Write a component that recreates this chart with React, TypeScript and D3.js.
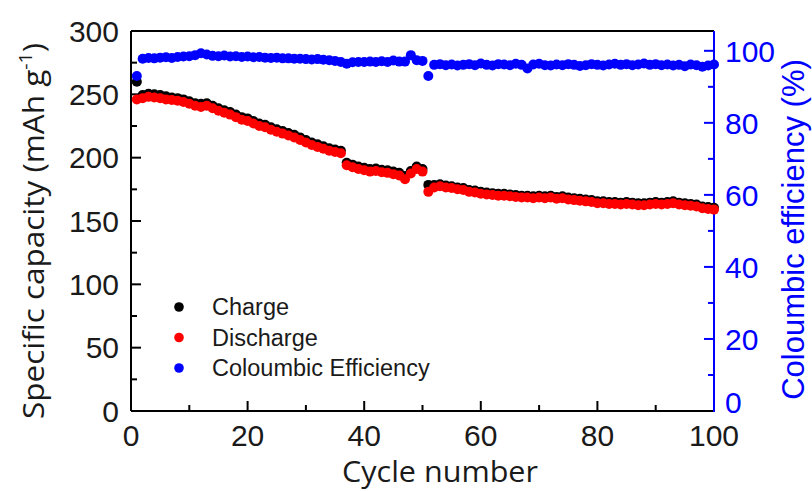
import React from "react";
import * as d3 from "d3";

const cycles: number[] = Array.from({ length: 100 }, (_, i) => i + 1);

const charge: number[] = [
  260, 249.5, 250.5, 250, 249.5, 248.5, 247.5, 247, 246, 244.5,
  243, 242.5, 243, 241, 239, 237.5, 236, 234, 232, 231,
  229, 227, 226, 224, 222.5, 221, 219.5, 218, 216, 214,
  212, 210.5, 209, 207.5, 206.5, 205.5, 196, 194.5, 193, 192,
  191, 191.5, 190.5, 190, 189, 188, 185.5, 189.5, 193, 191,
  178.5, 178.5, 179, 178, 177.5, 176.5, 176, 174.5, 174, 173,
  172.5, 172, 171.5, 171.5, 171, 170.5, 170, 170, 169.5, 170,
  169.5, 170, 169, 169.5, 168.5, 168, 167.5, 167, 166.5, 165.5,
  165.5, 165, 165, 164.5, 165, 164.5, 164, 164, 164.5, 165,
  164.5, 165, 165.5, 164.5, 164, 163.5, 163, 161.5, 161, 160.5,
];

const discharge: number[] = [
  246, 247, 248, 247.5, 247, 246, 245.5, 245, 244, 242.5,
  241, 240, 241, 239, 237, 235.5, 234, 232, 230, 229,
  227, 225, 224, 222, 220.5, 219, 217.5, 216, 214, 212,
  210, 208.5, 207, 205.5, 204.5, 203.5, 194, 192.5, 191, 190,
  189, 189.5, 188.5, 188, 187, 186, 183, 187.5, 191, 189,
  173, 176.5, 177.5, 176.5, 176, 175, 174.5, 173, 172.5, 171.5,
  171, 170.5, 170, 170, 169.5, 169, 168.5, 168.5, 168, 168.5,
  168, 168.5, 167.5, 168, 167, 166.5, 166, 165.5, 165, 164,
  164, 163.5, 163.5, 163, 163.5, 163, 162.5, 162.5, 163, 163.5,
  163, 163.5, 164, 163, 162.5, 162, 161.5, 160, 159.5, 159,
];

const efficiency: number[] = [
  93, 97.8, 98, 97.9, 98.1, 98.2, 98, 98.3, 98.4, 98.5,
  98.8, 99.3, 99, 98.6, 98.5, 98.7, 98.4, 98.5, 98.3, 98.4,
  98.2, 98.3, 98.1, 98, 98.1, 97.9, 97.9, 97.8, 97.8, 97.7,
  97.6, 97.7, 97.5, 97.4, 97.2, 96.9, 96.4, 96.8, 96.9, 96.9,
  97, 96.9, 97.1, 96.9, 97.3, 97, 97, 98.8, 97.4, 97.2,
  93, 96.1, 96.3, 96, 96.2, 95.9, 96.1, 96.3, 96, 96.5,
  96.1, 95.9, 96.3, 96.2, 96, 96.4, 96.1, 95.1, 96.2, 96.4,
  96, 95.9, 96.2, 96, 96.3, 96.1, 95.8, 96, 96.3, 96.1,
  95.9, 96.2, 96.4, 96.1, 96.3, 96, 96.2, 96.5, 96.1, 96.3,
  96, 96.2, 95.9, 96.1, 95.7, 96.2, 96, 95.6, 95.9, 96.2,
];

const xTicks: number[] = [0, 20, 40, 60, 80, 100];
const xMinorTicks: number[] = [10, 30, 50, 70, 90];
const yLeftTicks: number[] = [0, 50, 100, 150, 200, 250, 300];
const yLeftMinorTicks: number[] = [25, 75, 125, 175, 225, 275];
const yRightTicks: number[] = [0, 20, 40, 60, 80, 100];
const yRightMinorTicks: number[] = [10, 30, 50, 70, 90];

const legendItems = [
  { label: "Charge", color: "#000000" },
  { label: "Discharge", color: "#ff0000" },
  { label: "Coloumbic Efficiency", color: "#0000ff" },
];

const W = 812;
const H = 491;
const L = 131;
const R = 714;
const T = 31;
const B = 411;

export default function App() {
  const x = d3.scaleLinear().domain([0, 100]).range([L, R]);
  const yL = d3.scaleLinear().domain([0, 300]).range([B, T]);
  const yR = d3.scaleLinear().domain([0, 105.5]).range([B, T]);
  const blue = "#0000ff";
  const tickFont = "'Liberation Sans', Arial, sans-serif";
  const r = 5;

  return (
    <svg width={W} height={H} style={{ position: "absolute", left: 0, top: 0, background: "#fff" }}>
      {/* frame */}
      <line x1={L} y1={T} x2={R} y2={T} stroke="#000" strokeWidth={2} />
      <line x1={L} y1={B} x2={R} y2={B} stroke="#000" strokeWidth={2} />
      <line x1={L} y1={T} x2={L} y2={B} stroke="#000" strokeWidth={2} />
      <line x1={R} y1={T} x2={R} y2={B + 1} stroke={blue} strokeWidth={2} />

      {/* left ticks */}
      {yLeftTicks.map((t) => (
        <g key={"yl" + t}>
          {t > 0 && t < 300 && <line x1={L} x2={L + 10} y1={yL(t)} y2={yL(t)} stroke="#000" strokeWidth={2} />}
          <text x={119} y={yL(t)} dy="0.36em" textAnchor="end" fontFamily={tickFont} fontSize={30} fill="#1a1a1a">
            {t}
          </text>
        </g>
      ))}
      {yLeftMinorTicks.map((t) => (
        <line key={"ylm" + t} x1={L} x2={L + 6} y1={yL(t)} y2={yL(t)} stroke="#000" strokeWidth={2} />
      ))}

      {/* bottom ticks */}
      {xTicks.map((t) => (
        <g key={"x" + t}>
          {t > 0 && t < 100 && <line x1={x(t)} x2={x(t)} y1={B} y2={B - 10} stroke="#000" strokeWidth={2} />}
          <text x={x(t)} y={446} textAnchor="middle" fontFamily={tickFont} fontSize={30} fill="#1a1a1a">
            {t}
          </text>
        </g>
      ))}
      {xMinorTicks.map((t) => (
        <line key={"xm" + t} x1={x(t)} x2={x(t)} y1={B} y2={B - 6} stroke="#000" strokeWidth={2} />
      ))}

      {/* right ticks */}
      {yRightTicks.map((t) => (
        <g key={"yr" + t}>
          {t > 0 && <line x1={R} x2={R - 10} y1={yR(t)} y2={yR(t)} stroke={blue} strokeWidth={2} />}
          <text
            x={725}
            y={t === 0 ? yR(t) - 9 : yR(t)}
            dy="0.36em"
            textAnchor="start"
            fontFamily={tickFont}
            fontSize={30}
            fill={blue}
          >
            {t}
          </text>
        </g>
      ))}
      {yRightMinorTicks.map((t) => (
        <line key={"yrm" + t} x1={R} x2={R - 6} y1={yR(t)} y2={yR(t)} stroke={blue} strokeWidth={2} />
      ))}

      {/* data */}
      <g>
        {cycles.map((c, i) => (
          <circle key={"c" + c} cx={x(c)} cy={yL(charge[i])} r={r} fill="#000" />
        ))}
        {cycles.map((c, i) => (
          <circle key={"d" + c} cx={x(c)} cy={yL(discharge[i])} r={r} fill="#ff0000" />
        ))}
        {cycles.map((c, i) => (
          <circle key={"e" + c} cx={x(c)} cy={yR(efficiency[i])} r={r} fill={blue} />
        ))}
      </g>

      {/* legend */}
      {legendItems.map((it, i) => (
        <g key={it.label}>
          <circle cx={179} cy={307 + i * 30.5} r={4.8} fill={it.color} />
          <text x={212} y={307 + i * 30.5} dy="0.36em" fontFamily={tickFont} fontSize={23.5} fill="#1a1a1a">
            {it.label}
          </text>
        </g>
      ))}

      {/* axis titles */}
      <text
        transform={`translate(44,${(T + B) / 2 + 10}) rotate(-90)`}
        textAnchor="middle"
        fontFamily="'Open Sans', 'Noto Sans', sans-serif"
        fontSize={29}
        fill="#1a1a1a"
        textLength={376}
        lengthAdjust="spacingAndGlyphs"
      >
        Specific capacity (mAh g
        <tspan dy={-12} fontSize={18}>-1</tspan>
        <tspan dy={12}>)</tspan>
      </text>
      <text
        x={440}
        y={482}
        textAnchor="middle"
        fontFamily="'Open Sans', 'Noto Sans', sans-serif"
        fontSize={29}
        fill="#1a1a1a"
        textLength={196}
        lengthAdjust="spacingAndGlyphs"
      >
        Cycle number
      </text>
      <text
        transform={`translate(804,${(50 + 409) / 2}) rotate(-90)`}
        textAnchor="middle"
        fontFamily={tickFont}
        fontSize={31}
        fill={blue}
      >
        Coloumbic efficiency (%)
      </text>
    </svg>
  );
}
